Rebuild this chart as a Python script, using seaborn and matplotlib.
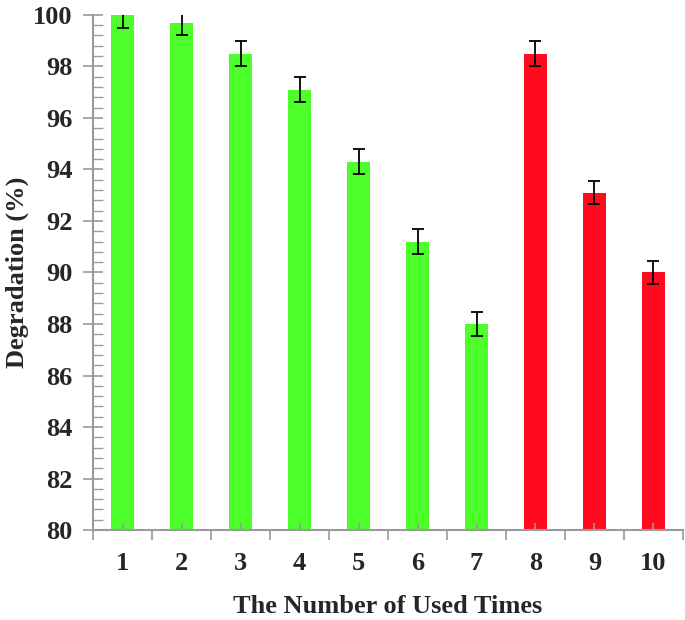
import matplotlib
matplotlib.use("Agg")
import matplotlib.pyplot as plt
import seaborn as sns
import numpy as np
import pandas as pd
from matplotlib.ticker import MultipleLocator, FixedLocator

cycles = ["1", "2", "3", "4", "5", "6", "7", "8", "9", "10"]
degradation = [100.0, 99.7, 98.5, 97.1, 94.3, 91.2, 88.0, 98.5, 93.1, 90.0]
errors = [0.5, 0.48, 0.5, 0.5, 0.48, 0.48, 0.45, 0.5, 0.45, 0.45]
group = ["A", "A", "A", "A", "A", "A", "A", "B", "B", "B"]
palette = {"A": "#4CFF2A", "B": "#FF0A1E"}

df = pd.DataFrame({"cycle": cycles, "deg": degradation, "group": group})

sns.set_theme(style="white")
plt.rcParams["font.family"] = ["Liberation Serif", "DejaVu Serif"]
plt.rcParams["font.weight"] = "bold"

fig = plt.figure(figsize=(6.85, 6.2), dpi=100)
ax = fig.add_axes([0.136, 0.145, 0.861, 0.831])

sns.barplot(data=df, x="cycle", y="deg", hue="group", palette=palette,
            width=0.4, dodge=False, legend=False, ax=ax, linewidth=0,
            saturation=1, errorbar=None)

pos = np.arange(len(cycles))
ax.errorbar(pos, degradation, yerr=errors, fmt="none", ecolor="black",
            elinewidth=1.3, capsize=4.5, capthick=1.3, zorder=5)

ax.set_xlim(-0.5, len(cycles) - 0.5)
ax.set_ylim(80, 100)

gray = "#9a9a9a"
for s in ["top", "right"]:
    ax.spines[s].set_visible(False)
for s in ["left", "bottom"]:
    ax.spines[s].set_color(gray)
    ax.spines[s].set_linewidth(1.5)

ax.set_axisbelow(False)
ax.yaxis.set_major_locator(MultipleLocator(2))
ax.yaxis.set_minor_locator(MultipleLocator(0.4))
ax.tick_params(axis="y", which="major", direction="inout", length=14,
               width=1.2, color=gray, labelsize=19, pad=8, left=True)
ax.tick_params(axis="y", which="minor", direction="in", length=7,
               width=1.0, color=gray, left=True)

ax.xaxis.set_minor_locator(FixedLocator(np.arange(-0.5, len(cycles), 1.0)))
ax.tick_params(axis="x", which="major", direction="in", length=5,
               width=1.2, color=gray, labelsize=19, pad=16, bottom=True)
ax.tick_params(axis="x", which="minor", direction="out", length=7,
               width=1.2, color=gray, bottom=True)

for lab in ax.get_xticklabels() + ax.get_yticklabels():
    lab.set_fontweight("bold")

ax.set_xlabel("The Number of Used Times", fontsize=19, fontweight="bold", labelpad=14)
ax.set_ylabel("Degradation (%)", fontsize=19, fontweight="bold", labelpad=3)

fig.savefig("out.png", dpi=100)
